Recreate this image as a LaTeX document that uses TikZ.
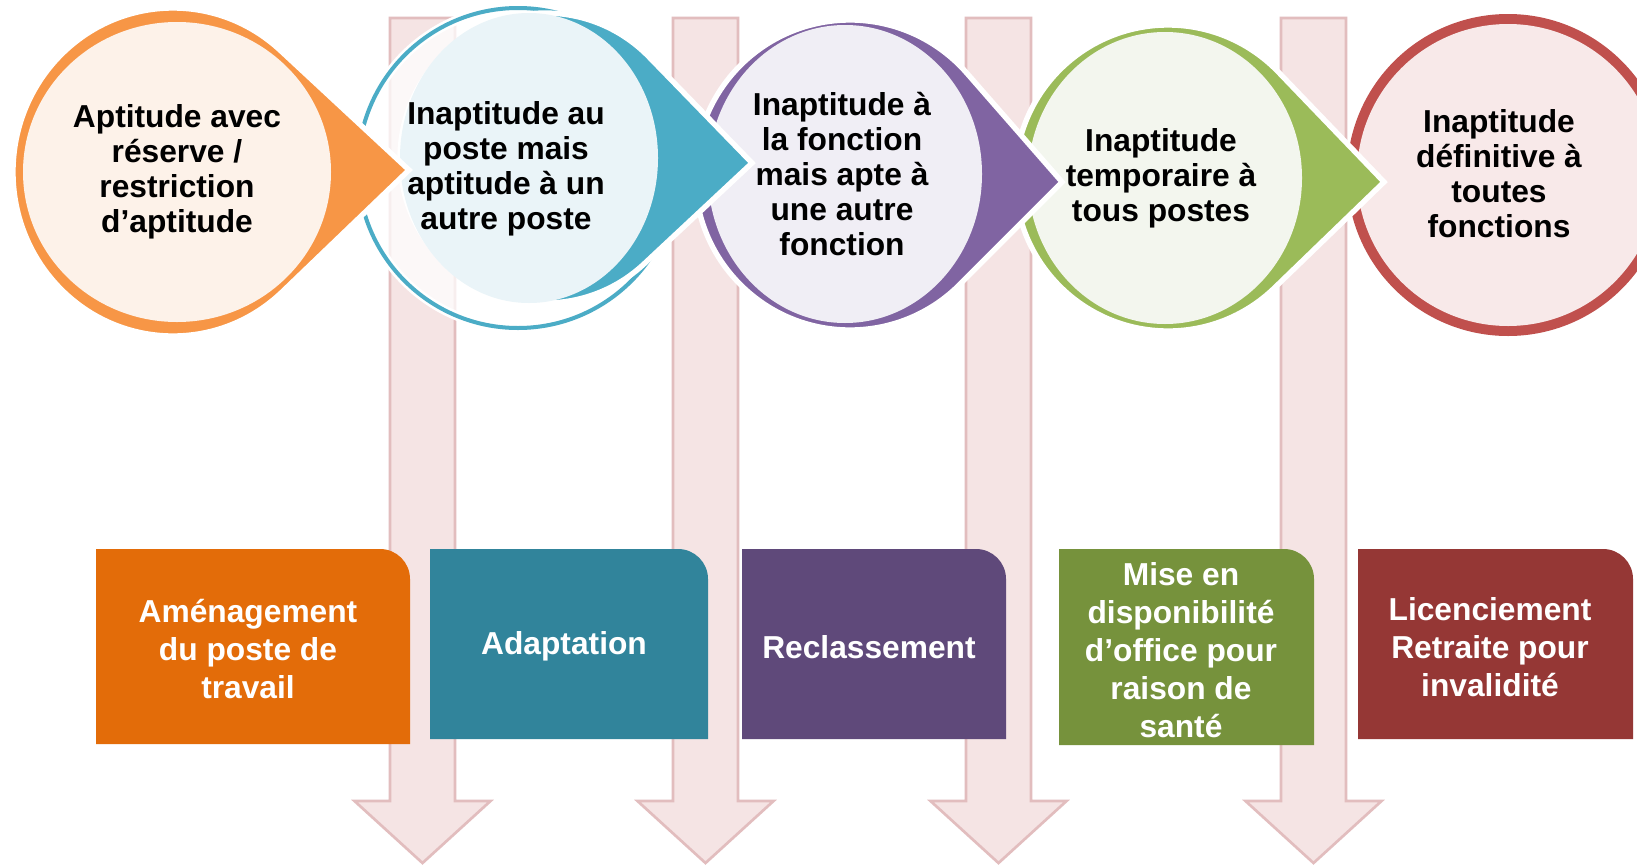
\documentclass[tikz,border=0pt]{standalone}
\usepackage{fontspec}
\setmainfont{Liberation Sans}
\usetikzlibrary{calc,positioning}
\definecolor{pinkfill}{HTML}{F5E4E4}
\definecolor{pinkline}{HTML}{E2BDBE}
\definecolor{orangering}{HTML}{F79646}
\definecolor{orangelight}{HTML}{FDF2E9}
\definecolor{tealring}{HTML}{4BACC6}
\definecolor{teallight}{HTML}{EAF4F8}
\definecolor{purplering}{HTML}{8064A2}
\definecolor{purplelight}{HTML}{F0EEF5}
\definecolor{greenring}{HTML}{9BBB59}
\definecolor{greenlight}{HTML}{F3F6EE}
\definecolor{redring}{HTML}{C0504D}
\definecolor{redlight}{HTML}{F8E9E9}
\definecolor{orangebox}{HTML}{E36C09}
\definecolor{tealbox}{HTML}{31849B}
\definecolor{purplebox}{HTML}{5F497A}
\definecolor{greenbox}{HTML}{76923C}
\definecolor{redbox}{HTML}{953735}
\tikzstyle{bubbletext}=[
  align=center,
  font={\fontsize{23.8}{26.3}\selectfont\bfseries},
  inner sep=0pt,
  text=black,
]
\tikzstyle{boxtext}=[
  align=center,
  font={\fontsize{23.8}{28.5}\selectfont\bfseries},
  inner sep=0pt,
  text=white,
]
\tikzstyle{downarrow}=[
  draw=pinkline,
  fill=pinkfill,
  line width=2pt,
]
\tikzstyle{drop}=[
  draw=white,
  line width=4pt,
]
% circle (cx,cy,rx,ry) with a point at (tx,ty)
\newcommand{\teardrop}[7]{%
  \pgfmathsetmacro{\tdx}{(#6-#2)*(#5/#4)}%
  \pgfmathsetmacro{\tdy}{#7-#3}%
  \pgfmathsetmacro{\tdb}{atan2(\tdy,\tdx)}%
  \pgfmathsetmacro{\tda}{acos((#5/100)/veclen(\tdx/100,\tdy/100))}%
  \begin{scope}[shift={(#2,#3)}, xscale=#4/#5]
    \path[#1] (\tdx,\tdy) -- ({\tdb+\tda}:#5)
      arc[start angle=\tdb+\tda, end angle=\tdb-\tda+360, radius=#5] -- cycle;
  \end{scope}}

\begin{document}
\begin{tikzpicture}[x=0.75pt, y=-0.75pt]
  \useasboundingbox (0,0) rectangle (1637,864);
  \fill[white] (0,0) rectangle (1637,864);
  %% arrows down
  \foreach \ax in {422.5, 705.5, 998.5, 1313.5}
    \draw[downarrow] (\ax-32.5,18) -- (\ax+32.5,18) -- (\ax+32.5,801)
      -- (\ax+68,801) -- (\ax,863) -- (\ax-68,801) -- (\ax-32.5,801) -- cycle;
  %% boxes
  \foreach \l/\t/\r/\b/\c in {96/549/410/744/orangebox, 430/549/708/739/tealbox,
      742/549/1006/739/purplebox, 1059/549/1314/745/greenbox, 1358/549/1633/739/redbox}
    \fill[\c] (\l,\b) -- (\l,\t) -- (\r-30,\t)
      arc[start angle=-90, end angle=0, radius=30] -- (\r,\b) -- cycle;
  \node (amenagement) [boxtext] at (248,649) {Aménagement\\du poste de\\travail};
  \node (adaptation) [boxtext] at (564,646) {Adaptation};
  \node (reclassement) [boxtext] at (869,647) {Reclassement};
  \node (disponibilite) [boxtext] at (1181,650) {Mise en\\disponibilité\\d’office pour\\raison de\\santé};
  \node (licenciement) [boxtext] at (1490,647) {Licenciement\\Retraite pour\\invalidité};
  %% circles, right to left
  \fill[redring] (1508,175) circle[radius=161];
  \fill[redlight] (1508,175) circle[radius=151];
  \node (definitive) [bubbletext] at (1499,174) {Inaptitude\\définitive à\\toutes\\fonctions};
  %%
  \teardrop{fill=greenring, drop}{1168}{178}{153}{153}{1384}{182}
  \fill[greenlight] (1165,178) ellipse[x radius=137, y radius=146];
  \node (temporaire) [bubbletext] at (1161,178) {Inaptitude\\temporaire à\\tous postes};
  %%
  \teardrop{fill=purplering, drop}{850}{175}{155}{155}{1062}{182}
  \fill[purplelight] (845,174) ellipse[x radius=137, y radius=149];
  \node (fonction) [bubbletext] at (842,174) {Inaptitude à\\la fonction\\mais apte à\\une autre\\fonction};
  %%
  \draw[white, line width=7pt] (518,168) circle[radius=160];
  \draw[tealring, line width=3pt, fill=white, fill opacity=0.75] (518,168) circle[radius=160];
  \teardrop{fill=tealring, drop}{545}{158}{145}{145}{752}{163}
  \fill[teallight] (529,158) ellipse[x radius=129, y radius=145];
  \node (poste) [bubbletext] at (506,169) {Inaptitude au\\poste mais\\aptitude à un\\autre poste};
  %%
  \teardrop{fill=orangering, drop}{173}{172}{160}{164}{409}{170}
  \fill[orangelight] (177,172) ellipse[x radius=154, y radius=150];
  \node (reserve) [bubbletext] at (177,172) {Aptitude avec\\réserve /\\restriction\\d’aptitude};
\end{tikzpicture}
\end{document}
